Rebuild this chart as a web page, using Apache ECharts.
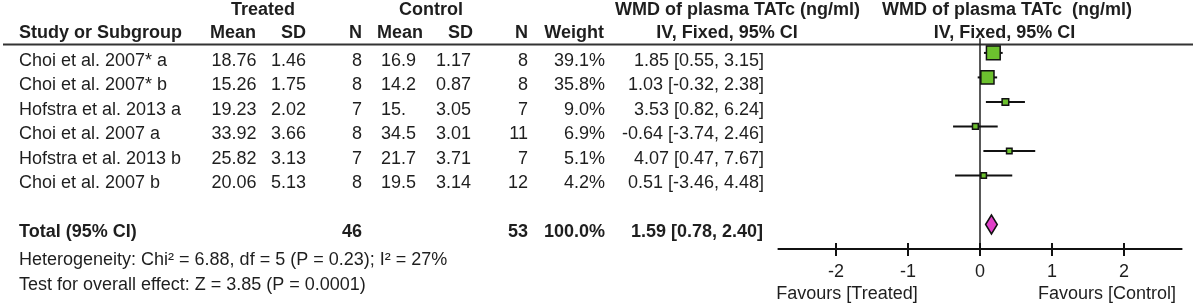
<!DOCTYPE html>
<html>
<head>
<meta charset="utf-8">
<script src="https://cdn.jsdelivr.net/npm/echarts@6/dist/echarts.min.js"></script>
<style>
  html, body { margin: 0; padding: 0; background: #fff; }
  #chart { width: 1196px; height: 307px; }
</style>
</head>
<body>
<div id="chart"></div>
<script>
'use strict';

// table columns, one entry per study
var studies = ['Choi et al. 2007* a', 'Choi et al. 2007* b', 'Hofstra et al. 2013 a',
               'Choi et al. 2007 a', 'Hofstra et al. 2013 b', 'Choi et al. 2007 b'];
var treatedMean = ['18.76', '15.26', '19.23', '33.92', '25.82', '20.06'];
var treatedSD = ['1.46', '1.75', '2.02', '3.66', '3.13', '5.13'];
var treatedN = [8, 8, 7, 8, 7, 8];
var controlMean = ['16.9', '14.2', '15.', '34.5', '21.7', '19.5'];
var controlSD = ['1.17', '0.87', '3.05', '3.01', '3.71', '3.14'];
var controlN = [8, 8, 7, 11, 7, 12];
var weight = [39.1, 35.8, 9.0, 6.9, 5.1, 4.2];
var ciText = ['1.85 [0.55, 3.15]', '1.03 [-0.32, 2.38]', '3.53 [0.82, 6.24]',
              '-0.64 [-3.74, 2.46]', '4.07 [0.47, 7.67]', '0.51 [-3.46, 4.48]'];

// where the marks sit on the plot axis
var plotMd = [0.185, 0.103, 0.353, -0.064, 0.407, 0.051];
var plotLow = [0.055, -0.032, 0.082, -0.374, 0.047, -0.346];
var plotHigh = [0.315, 0.238, 0.624, 0.246, 0.767, 0.448];

// pooled result
var totalLabel = 'Total (95% CI)';
var totalTreatedN = 46;
var totalControlN = 53;
var totalWeight = '100.0%';
var totalCiText = '1.59 [0.78, 2.40]';
var totalPlot = [0.159, 0.078, 0.24];

var heterogeneityText = 'Heterogeneity: Chi\u00b2 = 6.88, df = 5 (P = 0.23); I\u00b2 = 27%';
var overallText = 'Test for overall effect: Z = 3.85 (P = 0.0001)';
var tickValues = [-2, -1, 0, 1, 2];
var favoursLeft = 'Favours [Treated]';
var favoursRight = 'Favours [Control]';

var FONT = "'Liberation Sans', Arial, sans-serif";
var TXT = '#1e1e1e';
var TOTAL_ROW = 7;
var AXIS_ROW = 8;

function font(bold) {
    return (bold ? 'bold ' : '') + '18px ' + FONT;
}

function txt(x, y, s, align, bold, extra) {
    var style = {
        text: s, font: font(bold), fill: TXT,
        align: align, textAlign: align,
        verticalAlign: 'middle', textVerticalAlign: 'middle'
    };
    if (extra) {
        for (var k in extra) style[k] = extra[k];
    }
    return { type: 'text', x: x, y: y, style: style, silent: true };
}

function squareSize(w) {
    return Math.max(5.5, Math.sqrt(w) * 2.2);
}

// "15." keeps its decimal point in line with the others via a hidden 0
function cellMean(x, y, s) {
    if (s.charAt(s.length - 1) === '.') {
        return txt(x, y, s + '{h|0}', 'right', false, {
            rich: { h: { fill: 'rgba(0,0,0,0)', font: font(false) } }
        });
    }
    return txt(x, y, s, 'right', false);
}

var tableData = [];
for (var i = 0; i < studies.length; i++) tableData.push([0, i]);
tableData.push([0, TOTAL_ROW]);

var studyData = [];
for (var j = 0; j < studies.length; j++) {
    studyData.push([plotMd[j], plotLow[j], plotHigh[j], j, weight[j]]);
}

var tickData = tickValues.map(function (v) { return [v, AXIS_ROW]; });

var chart = echarts.init(document.getElementById('chart'));

var option = {
    animation: false,
    backgroundColor: '#fff',
    grid: { left: 778.4, right: 14.4, top: 28.4, bottom: 58, containLabel: false },
    xAxis: {
        type: 'value', min: -2.8, max: 2.8, position: 'bottom',
        axisLine: { show: true, onZero: false, lineStyle: { color: '#111', width: 2 } },
        axisTick: { show: true, customValues: tickValues, length: 7, lineStyle: { color: '#111', width: 2 } },
        axisLabel: { customValues: tickValues, margin: 14, fontSize: 18, fontFamily: FONT, color: TXT },
        splitLine: { show: false }
    },
    yAxis: { type: 'value', min: -1, max: 8, inverse: true, show: false },
    graphic: [
        { type: 'line', shape: { x1: 3, y1: 44.5, x2: 1193, y2: 44.5 }, style: { stroke: '#333', lineWidth: 2 }, silent: true },
        txt(263, 10.5, 'Treated', 'center', true),
        txt(431, 10.5, 'Control', 'center', true),
        txt(737.5, 10.5, 'WMD of plasma TATc (ng/ml)', 'center', true),
        txt(1007, 10.5, 'WMD of plasma TATc  (ng/ml)', 'center', true),
        txt(19, 33.5, 'Study or Subgroup', 'left', true),
        txt(256, 33.5, 'Mean', 'right', true),
        txt(306, 33.5, 'SD', 'right', true),
        txt(362, 33.5, 'N', 'right', true),
        txt(423, 33.5, 'Mean', 'right', true),
        txt(473, 33.5, 'SD', 'right', true),
        txt(528, 33.5, 'N', 'right', true),
        txt(604, 33.5, 'Weight', 'right', true),
        txt(727, 33.5, 'IV, Fixed, 95% CI', 'center', true),
        txt(1004.5, 33.5, 'IV, Fixed, 95% CI', 'center', true),
        txt(19, 260, heterogeneityText, 'left', false),
        txt(19, 285, overallText, 'left', false),
        txt(847, 294, favoursLeft, 'center', false),
        txt(1107, 294, favoursRight, 'center', false)
    ],
    series: [{
        // line of no effect
        type: 'custom', name: 'zero', clip: false, silent: true,
        data: [[0, -0.6, AXIS_ROW]],
        encode: { x: 0, y: [1, 2] },
        renderItem: function (params, api) {
            var a = api.coord([api.value(0), api.value(1)]);
            var b = api.coord([api.value(0), api.value(2)]);
            return { type: 'line', shape: { x1: a[0], y1: a[1], x2: b[0], y2: b[1] },
                     style: { stroke: '#222', lineWidth: 1.5 } };
        }
    }, {
        // upper half of the crossing ticks
        type: 'custom', name: 'ticks', clip: false, silent: true,
        data: tickData,
        encode: { x: 0, y: 1 },
        renderItem: function (params, api) {
            var p = api.coord([api.value(0), api.value(1)]);
            return { type: 'line', shape: { x1: p[0], y1: p[1] - 6, x2: p[0], y2: p[1] },
                     style: { stroke: '#111', lineWidth: 2 } };
        }
    }, {
        type: 'custom', name: 'studies', clip: false, silent: true,
        data: studyData,
        encode: { x: [0, 1, 2], y: 3 },
        renderItem: function (params, api) {
            var row = api.value(3);
            var lo = api.coord([api.value(1), row]);
            var hi = api.coord([api.value(2), row]);
            var c = api.coord([api.value(0), row]);
            var s = squareSize(api.value(4));
            return { type: 'group', children: [
                { type: 'line', shape: { x1: lo[0], y1: lo[1], x2: hi[0], y2: hi[1] },
                  style: { stroke: '#111', lineWidth: 2 } },
                { type: 'rect', shape: { x: c[0] - s / 2, y: c[1] - s / 2, width: s, height: s },
                  style: { fill: '#6cc12e', stroke: '#111', lineWidth: 1.5 } }
            ] };
        }
    }, {
        type: 'custom', name: 'total', clip: false, silent: true,
        data: [[totalPlot[0], totalPlot[1], totalPlot[2], TOTAL_ROW]],
        encode: { x: [0, 1, 2], y: 3 },
        renderItem: function (params, api) {
            var row = api.value(3);
            var lo = api.coord([api.value(1), row]);
            var hi = api.coord([api.value(2), row]);
            var c = api.coord([api.value(0), row]);
            var h = 9.5;
            return { type: 'polygon',
                     shape: { points: [[lo[0], lo[1]], [c[0], c[1] - h], [hi[0], hi[1]], [c[0], c[1] + h]] },
                     style: { fill: '#e040c8', stroke: '#111', lineWidth: 1.5 } };
        }
    }, {
        // the table rows share the plot's y scale
        type: 'custom', name: 'table', clip: false, silent: true,
        data: tableData,
        encode: { x: 0, y: 1 },
        renderItem: function (params, api) {
            var row = api.value(1);
            var y = api.coord([0, row])[1] + 8;
            var k = params.dataIndex;
            if (row === TOTAL_ROW) {
                return { type: 'group', children: [
                    txt(19, y, totalLabel, 'left', true),
                    txt(362, y, String(totalTreatedN), 'right', true),
                    txt(528, y, String(totalControlN), 'right', true),
                    txt(605, y, totalWeight, 'right', true),
                    txt(763, y, totalCiText, 'right', true)
                ] };
            }
            return { type: 'group', children: [
                txt(19, y, studies[k], 'left', false),
                txt(256.5, y, treatedMean[k], 'right', false),
                txt(306, y, treatedSD[k], 'right', false),
                txt(362, y, String(treatedN[k]), 'right', false),
                cellMean(416, y, controlMean[k]),
                txt(471, y, controlSD[k], 'right', false),
                txt(528, y, String(controlN[k]), 'right', false),
                txt(605, y, weight[k].toFixed(1) + '%', 'right', false),
                txt(764, y, ciText[k], 'right', false)
            ] };
        }
    }]
};

chart.setOption(option);
</script>
</body>
</html>
